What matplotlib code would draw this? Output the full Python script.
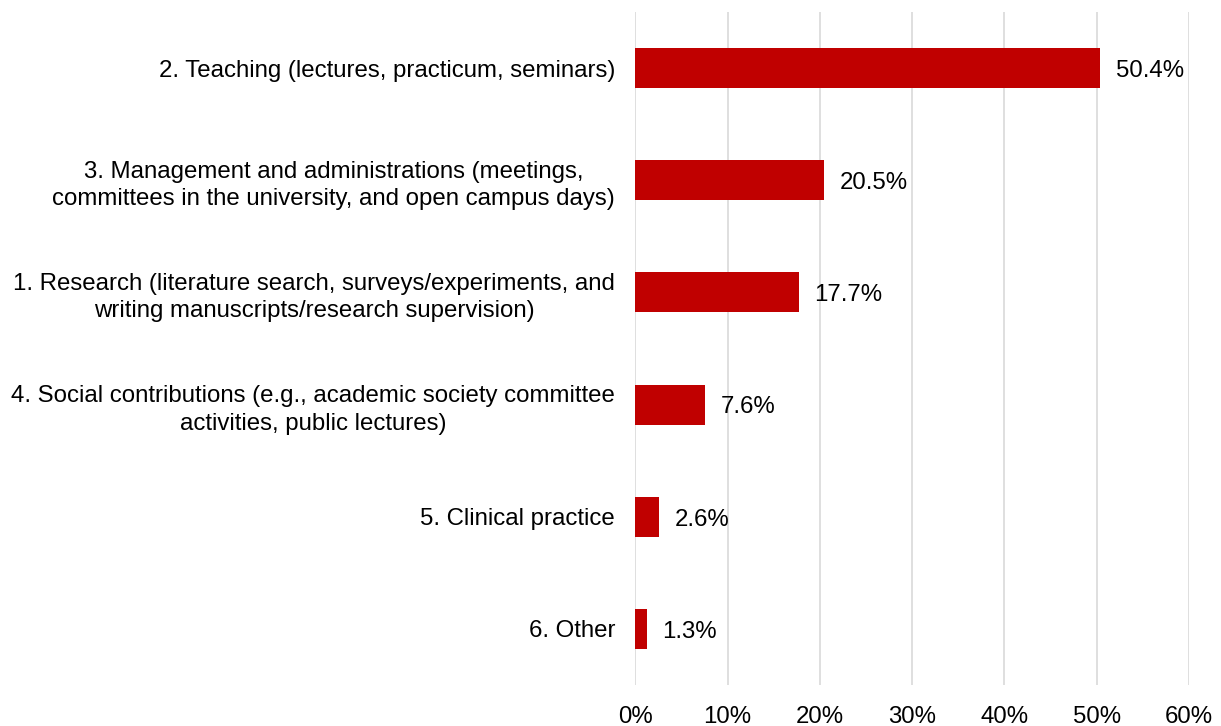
import matplotlib
matplotlib.use('Agg')
import matplotlib.pyplot as plt
import numpy as np

plt.rcParams['font.family'] = ['Liberation Sans', 'DejaVu Sans']

# Share of working time by activity (%)
activities = [
    "2. Teaching (lectures, practicum, seminars)",
    "3. Management and administrations (meetings,\ncommittees in the university, and open campus days)",
    "1. Research (literature search, surveys/experiments, and\nwriting manuscripts/research supervision)",
    "4. Social contributions (e.g., academic society committee\nactivities, public lectures)",
    "5. Clinical practice",
    "6. Other",
]
shares = [50.4, 20.5, 17.7, 7.6, 2.6, 1.3]
x_ticks = [0, 10, 20, 30, 40, 50, 60]

FS = 17.25

fig = plt.figure(figsize=(12.21, 7.26), dpi=100)
ax = fig.add_axes([635.3 / 1221, 1 - 685 / 726, (1189 - 635.3) / 1221, 673 / 726])

y = np.arange(len(activities))
bars = ax.barh(y, shares, height=0.356, color='#C00000', zorder=3)

for rect, val in zip(bars, shares):
    ax.annotate(f"{val:.1f}%", (rect.get_width(), rect.get_y() + rect.get_height() / 2),
                xytext=(11, -2), textcoords='offset points', va='center', ha='left',
                fontsize=FS, color='black')

ax.set_xlim(0, 60)
ax.set_ylim(len(activities) - 0.5, -0.5)
ax.set_xticks(x_ticks)
ax.set_xticklabels([f"{t}%" for t in x_ticks], fontsize=FS)
ax.set_yticks(y)
ax.set_yticklabels(activities, fontsize=FS)
for lbl in ax.get_yticklabels():
    lbl.set_multialignment('center')
    lbl.set_linespacing(1.32)

ax.grid(axis='x', color='#D9D9D9', linewidth=1.2, zorder=0)
for side in ['top', 'right', 'bottom', 'left']:
    ax.spines[side].set_visible(False)
ax.tick_params(axis='both', length=0)
ax.tick_params(axis='y', pad=14.5)
ax.tick_params(axis='x', pad=15)

fig.savefig('out.png', dpi=100)
plt.close()
